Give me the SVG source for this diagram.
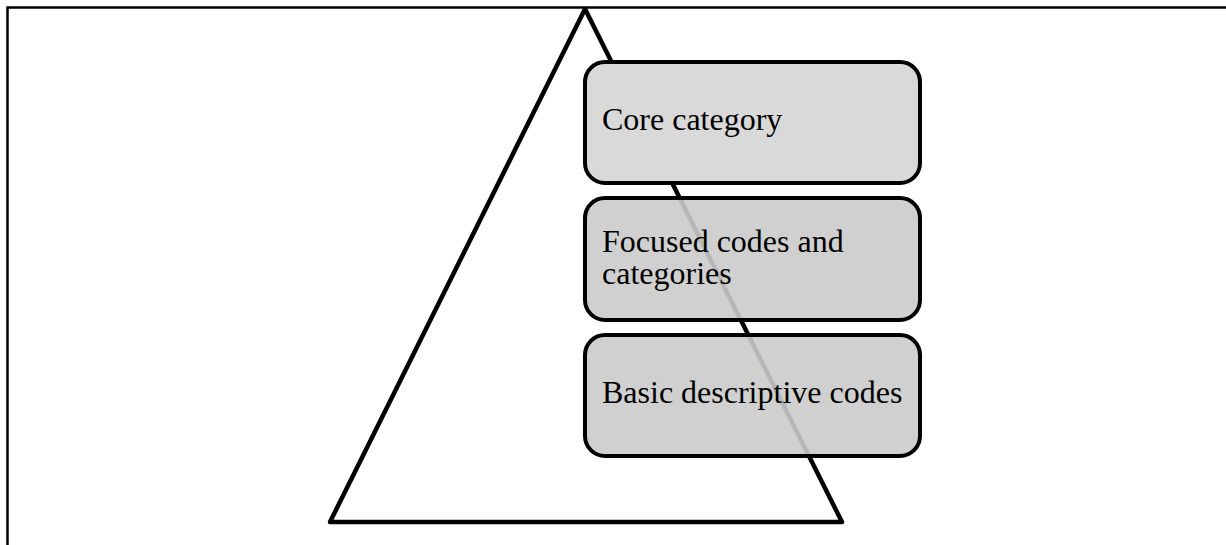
<svg xmlns="http://www.w3.org/2000/svg" width="1226" height="545" viewBox="0 0 1226 545">
<style>
.frame{fill:none;stroke:#000;stroke-width:2.5}
.tri{fill:none;stroke:#000;stroke-width:4.5;stroke-linejoin:round}
.box{stroke:#000;stroke-width:4}
.lbl{font-family:"Liberation Serif","Times New Roman",serif;font-size:32px;fill:#000}
</style>
<rect width="1226" height="545" fill="#fff"/>
<g id="frame">
<path class="frame" d="M7.5,545 V7.5 H1226"/>
</g>
<g id="pyramid">
<path class="tri" d="M585,9 L842,522 L330,522 Z"/>
</g>
<g id="connectors"></g>
<g id="node-core">
<rect class="box" x="585" y="62" width="335" height="121" rx="20" fill="#d9d9d9"/>
<text class="lbl" x="602" y="130">Core category</text>
</g>
<g id="node-focused">
<rect class="box" x="585" y="198" width="335" height="122" rx="20" fill="#cbcbcb" fill-opacity="0.9"/>
<text class="lbl" x="602" y="252">Focused codes and</text>
<text class="lbl" x="602" y="284">categories</text>
</g>
<g id="node-basic">
<rect class="box" x="585" y="335" width="335" height="121" rx="20" fill="#cbcbcb" fill-opacity="0.9"/>
<text class="lbl" x="602" y="403">Basic descriptive codes</text>
</g>
</svg>
